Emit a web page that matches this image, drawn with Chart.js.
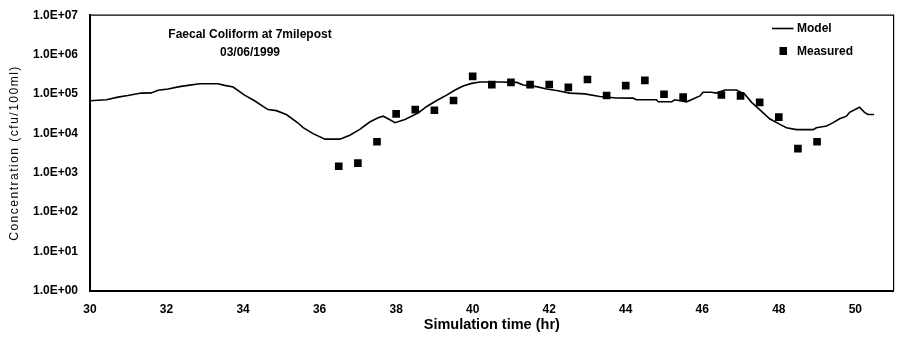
<!DOCTYPE html>
<html>
<head>
<meta charset="utf-8">
<script src="https://cdn.jsdelivr.net/npm/chart.js@4.4.1/dist/chart.umd.min.js"></script>
<style>
  html, body { margin: 0; padding: 0; background: #fff; }
  #wrap { width: 899px; height: 339px; }
</style>
</head>
<body>
<div id="wrap"><canvas id="faecal" width="899" height="339"></canvas></div>
<script>
// model curve (hr, cfu/100ml)
const modelTime = [30.0, 30.43, 30.73, 30.99, 31.34, 31.6, 31.78, 32.04, 32.34, 32.56, 32.87, 33.34, 33.52, 33.74,
  34.04, 34.3, 34.65, 34.87, 35.13, 35.43, 35.57, 35.83, 36.14, 36.53, 36.79, 37.05, 37.31, 37.53, 37.66, 37.79,
  37.97, 38.23, 38.58, 38.8, 39.06, 39.32, 39.54, 39.75, 39.97, 40.19, 40.71, 41.15, 41.32, 41.67, 41.93, 42.19,
  42.54, 42.93, 43.32, 43.76, 44.19, 44.28, 44.8, 44.85, 45.2, 45.28, 45.59, 45.94, 46.02, 46.24, 46.37, 46.59,
  46.89, 47.11, 47.29, 47.5, 47.76, 48.03, 48.2, 48.46, 48.9, 48.98, 49.25, 49.42, 49.59, 49.77, 49.85, 50.11,
  50.24, 50.33, 50.49];
const modelConc = [6.7e4, 7.1e4, 8.3e4, 9.1e4, 1.05e5, 1.06e5, 1.24e5, 1.33e5, 1.53e5, 1.65e5, 1.82e5, 1.82e5, 1.65e5, 1.5e5,
  9.3e4, 6.7e4, 4.0e4, 3.76e4, 3.0e4, 1.85e4, 1.39e4, 9.8e3, 7.1e3, 7.1e3, 8.9e3, 1.26e4, 1.93e4, 2.47e4, 2.72e4, 2.34e4,
  1.86e4, 2.24e4, 3.3e4, 4.8e4, 6.8e4, 9.3e4, 1.26e5, 1.58e5, 1.85e5, 2.0e5, 2.0e5, 1.96e5, 1.68e5, 1.53e5, 1.33e5, 1.22e5,
  1.05e5, 1.0e5, 8.6e4, 7.9e4, 7.8e4, 7.1e4, 7.1e4, 6.3e4, 6.3e4, 7.1e4, 6.3e4, 8.9e4, 1.1e5, 1.1e5, 1.05e5, 1.26e5,
  1.26e5, 9.8e4, 6.1e4, 4.0e4, 2.34e4, 1.68e4, 1.38e4, 1.24e4, 1.24e4, 1.38e4, 1.53e4, 1.86e4, 2.34e4, 2.72e4, 3.4e4, 4.6e4,
  3.4e4, 3.0e4, 3.0e4];

// measured samples
const measTime = [36.5, 37, 37.5, 38, 38.5, 39, 39.5, 40, 40.5, 41, 41.5, 42, 42.5, 43, 43.5, 44, 44.5, 45, 45.5,
  46.5, 47, 47.5, 48, 48.5, 49];
const measConc = [1.45e3, 1.74e3, 6.1e3, 3.1e4, 4.0e4, 3.85e4, 6.8e4, 2.8e5, 1.72e5, 1.96e5, 1.72e5, 1.74e5, 1.47e5,
  2.33e5, 9.1e4, 1.62e5, 2.2e5, 9.8e4, 8.3e4, 9.4e4, 8.9e4, 6.1e4, 2.57e4, 4.07e3, 6.1e3];

const xTicks = [30, 32, 34, 36, 38, 40, 42, 44, 46, 48, 50];
const yTicks = [1, 10, 100, 1e3, 1e4, 1e5, 1e6, 1e7];

const FONT = '"Liberation Sans", Arial, sans-serif';

function sci(v) {
  const e = Math.round(Math.log10(v));
  return '1.0E+' + String(e).padStart(2, '0');
}

// frame, titles and legend
const extras = {
  id: 'extras',
  afterDraw(chart) {
    const ctx = chart.ctx;
    const a = chart.chartArea;
    ctx.save();
    ctx.strokeStyle = '#000';
    ctx.lineWidth = 1.2;
    ctx.beginPath();
    ctx.moveTo(a.left, a.top);
    ctx.lineTo(a.right, a.top);
    ctx.lineTo(a.right, a.bottom);
    ctx.stroke();

    ctx.fillStyle = '#000';
    ctx.font = 'bold 12px ' + FONT;
    ctx.textAlign = 'center';
    ctx.textBaseline = 'middle';
    ctx.fillText('Faecal Coliform at 7milepost', 250, 35);
    ctx.fillText('03/06/1999', 250, 52.5);

    // legend
    ctx.lineWidth = 1.6;
    ctx.beginPath();
    ctx.moveTo(772, 28.5);
    ctx.lineTo(793.5, 28.5);
    ctx.stroke();
    ctx.fillRect(779.5, 47, 7.5, 8);
    ctx.textAlign = 'left';
    ctx.fillText('Model', 797, 29);
    ctx.fillText('Measured', 797, 51.5);

    // y title
    ctx.translate(15, (a.top + a.bottom) / 2);
    ctx.rotate(-Math.PI / 2);
    ctx.font = '12px ' + FONT;
    ctx.textAlign = 'center';
    ctx.letterSpacing = '1.5px';
    ctx.fillText('Concentration (cfu/100ml)', 0, 0);
    ctx.restore();
  }
};

const ctx = document.getElementById('faecal');

const data = {
  datasets: [{
    label: 'Model',
    type: 'line',
    data: modelTime.map((t, i) => ({x: t, y: modelConc[i]})),
    borderColor: '#000',
    borderWidth: 1.6,
    pointRadius: 0,
    tension: 0,
    fill: false
  },
  {
    label: 'Measured',
    type: 'scatter',
    data: measTime.map((t, i) => ({x: t, y: measConc[i]})),
    pointStyle: 'rect',
    pointRadius: 5.4,
    backgroundColor: '#000',
    borderColor: '#000',
    borderWidth: 0
  }]
};

const config = {
  type: 'scatter',
  data: data,
  options: {
    responsive: false,
    animation: false,
    layout: { padding: { top: 10.5, right: 4.3, left: 0, bottom: 0 } },
    plugins: { legend: { display: false }, tooltip: { enabled: false } },
    scales: {
      x: {
        type: 'linear',
        min: 30,
        max: 51,
        afterBuildTicks: s => { s.ticks = xTicks.map(v => ({value: v})); },
        afterFit: s => { s.height = 48.3; },
        grid: { display: false, drawTicks: true, tickLength: 4, tickColor: '#000', tickWidth: 1.5 },
        border: { color: '#000', width: 2 },
        ticks: { color: '#000', font: { family: FONT, size: 12, weight: 'bold' }, padding: 8, maxRotation: 0 },
        title: {
          display: true,
          text: 'Simulation time (hr)',
          color: '#000',
          font: { family: FONT, size: 14.5, weight: 'bold' },
          padding: { top: 0, bottom: 5.3 }
        }
      },
      y: {
        type: 'logarithmic',
        min: 1,
        max: 1e7,
        afterBuildTicks: s => { s.ticks = yTicks.map(v => ({value: v})); },
        afterFit: s => { s.width = 90; },
        grid: { display: false, drawTicks: true, tickLength: 4, tickColor: '#000', tickWidth: 1.5 },
        border: { color: '#000', width: 2 },
        ticks: { color: '#000', font: { family: FONT, size: 12, weight: 'bold' }, padding: 8, callback: v => sci(v) }
      }
    }
  },
  plugins: [extras]
};

new Chart(ctx, config);
</script>
</body>
</html>
